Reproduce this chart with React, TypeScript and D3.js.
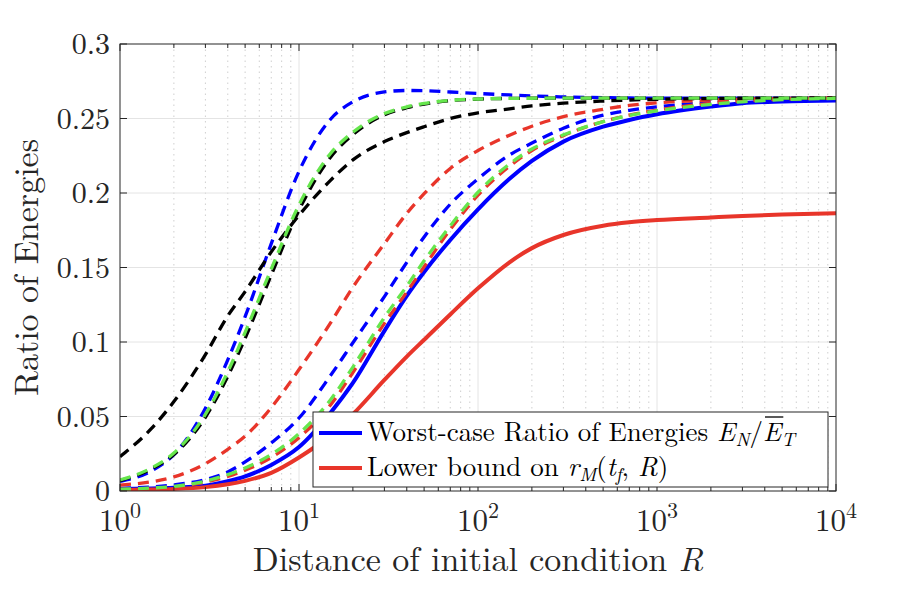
import React, { useEffect, useRef } from 'react';
import * as d3 from 'd3';

// sample points along R (log axis)
const R_VALUES = [1, 1.5, 2, 3, 4, 5, 7, 10, 15, 20, 30, 40, 50, 70, 100, 150, 200, 300, 500, 700, 1000, 2000, 3000, 5000, 10000];

// solid curves
const worstCase = [0.0013, 0.0017, 0.0022, 0.0035, 0.0065, 0.0098, 0.0175, 0.0295, 0.0525, 0.0725, 0.1075, 0.131, 0.147, 0.1685, 0.189, 0.2095, 0.2215, 0.2345, 0.2445, 0.2490, 0.2528, 0.2580, 0.2603, 0.2614, 0.262];
const lowerBound = [0.0007, 0.001, 0.0014, 0.0026, 0.0045, 0.0068, 0.0122, 0.0225, 0.0375, 0.0515, 0.0745, 0.0902, 0.1015, 0.1185, 0.136, 0.1535, 0.1630, 0.1718, 0.1780, 0.1803, 0.1818, 0.1836, 0.1846, 0.1856, 0.1864];

// dashed curves
const blueFast = [0.0065, 0.0135, 0.0245, 0.0555, 0.088, 0.117, 0.166, 0.2145, 0.2495, 0.2612, 0.2678, 0.2688, 0.2687, 0.2678, 0.2668, 0.2658, 0.2651, 0.2645, 0.264, 0.2638, 0.2636, 0.2636, 0.2636, 0.2636, 0.2636];
const blueSlow = [0.0018, 0.0027, 0.0041, 0.0077, 0.0128, 0.0195, 0.0322, 0.049, 0.0775, 0.0995, 0.1305, 0.1535, 0.1705, 0.1925, 0.2095, 0.2255, 0.2335, 0.2435, 0.2522, 0.2555, 0.2578, 0.2608, 0.262, 0.2629, 0.2634];
const redMid = [0.004, 0.0062, 0.0095, 0.0183, 0.028, 0.0368, 0.056, 0.0815, 0.1128, 0.1368, 0.166, 0.1863, 0.1995, 0.2165, 0.2285, 0.2388, 0.2448, 0.2512, 0.2562, 0.2588, 0.2605, 0.2624, 0.263, 0.2634, 0.2636];
const redSlow = [0.001, 0.0018, 0.0028, 0.006, 0.0098, 0.014, 0.0225, 0.0358, 0.0578, 0.0795, 0.1125, 0.1335, 0.1505, 0.1755, 0.1985, 0.2180, 0.2285, 0.2385, 0.248, 0.2523, 0.2556, 0.2602, 0.2618, 0.263, 0.2638];
const blackEarly = [0.023, 0.042, 0.060, 0.0915, 0.1175, 0.1338, 0.1605, 0.185, 0.2085, 0.2222, 0.2345, 0.2405, 0.2445, 0.250, 0.2538, 0.2565, 0.2585, 0.2603, 0.2617, 0.2624, 0.2629, 0.2634, 0.2636, 0.2637, 0.2638];
const blackFast = [0.007, 0.0148, 0.0245, 0.0495, 0.077, 0.1025, 0.145, 0.1885, 0.224, 0.2392, 0.2525, 0.2572, 0.2597, 0.262, 0.263, 0.2635, 0.2636, 0.2637, 0.2637, 0.2637, 0.2637, 0.2637, 0.2637, 0.2637, 0.2637];
const greenFast = [0.0074, 0.0155, 0.0255, 0.0515, 0.080, 0.1065, 0.149, 0.192, 0.2265, 0.2408, 0.2533, 0.2578, 0.2601, 0.2622, 0.2631, 0.2635, 0.2636, 0.2637, 0.2637, 0.2637, 0.2637, 0.2637, 0.2637, 0.2637, 0.2637];
const greenSlow = [0.0012, 0.002, 0.0031, 0.0066, 0.011, 0.0155, 0.0245, 0.0385, 0.0612, 0.0832, 0.1165, 0.1375, 0.1545, 0.178, 0.2005, 0.2195, 0.2295, 0.2390, 0.2479, 0.252, 0.2552, 0.2595, 0.2612, 0.2626, 0.2635];

const Y_TICKS = [0, 0.05, 0.1, 0.15, 0.2, 0.25, 0.3];
const X_DECADES = [0, 1, 2, 3, 4];

const BLUE = '#0000ff';
const RED = '#e8352a';
const GREEN = '#66e64d';
const BLACK = '#000000';

const FONT = "'Latin Modern Roman', 'Liberation Serif', serif";

const W = 912;
const H = 593;
const margin = { top: 44, right: 76, bottom: 102, left: 120 };

const App: React.FC = () => {
  const ref = useRef<SVGSVGElement | null>(null);

  useEffect(() => {
    if (!ref.current) return;
    const svg = d3.select(ref.current);
    svg.selectAll('*').remove();

    const x = d3.scaleLog().domain([1, 1e4]).range([margin.left, W - margin.right]);
    const y = d3.scaleLinear().domain([0, 0.3]).range([H - margin.bottom, margin.top]);
    const [x0, x1] = x.range();
    const [y0, y1] = y.range();

    svg.append('rect').attr('width', W).attr('height', H).attr('fill', '#fff');

    svg.append('defs').append('clipPath').attr('id', 'plot-clip')
      .append('rect').attr('x', x0).attr('y', y1).attr('width', x1 - x0).attr('height', y0 - y1);

    // minor x grid (dotted)
    const minorX: number[] = [];
    for (let k = 0; k < 4; k++) for (let m = 2; m <= 9; m++) minorX.push(m * 10 ** k);
    svg.append('g').selectAll('line').data(minorX).join('line')
      .attr('x1', d => x(d)).attr('x2', d => x(d))
      .attr('y1', y0).attr('y2', y1)
      .attr('stroke', '#cfcfcf').attr('stroke-width', 1).attr('stroke-dasharray', '1.5,4');

    // major grid
    const grid = svg.append('g').attr('stroke', '#e4e4e4').attr('stroke-width', 1);
    grid.selectAll('line.gx').data(X_DECADES.slice(1, -1)).join('line')
      .attr('class', 'gx')
      .attr('x1', d => x(10 ** d)).attr('x2', d => x(10 ** d))
      .attr('y1', y0).attr('y2', y1);
    grid.selectAll('line.gy').data(Y_TICKS.slice(1, -1)).join('line')
      .attr('class', 'gy')
      .attr('x1', x0).attr('x2', x1)
      .attr('y1', d => y(d)).attr('y2', d => y(d));

    // curves
    const line = (vals: number[]) =>
      d3.line<number>()
        .x((_, i) => x(R_VALUES[i]))
        .y(d => y(d))
        .curve(d3.curveMonotoneX)(vals);

    const curves = [
      { v: worstCase, c: BLUE, dash: false },
      { v: lowerBound, c: RED, dash: false },
      { v: blueFast, c: BLUE, dash: true },
      { v: blueSlow, c: BLUE, dash: true },
      { v: redMid, c: RED, dash: true },
      { v: redSlow, c: RED, dash: true },
      { v: blackEarly, c: BLACK, dash: true },
      { v: blackFast, c: BLACK, dash: true },
      { v: greenFast, c: GREEN, dash: true },
      { v: greenSlow, c: GREEN, dash: true },
    ];

    svg.append('g').attr('clip-path', 'url(#plot-clip)')
      .selectAll('path').data(curves).join('path')
      .attr('d', d => line(d.v))
      .attr('fill', 'none')
      .attr('stroke', d => d.c)
      .attr('stroke-width', d => (d.dash ? 3.3 : 4))
      .attr('stroke-dasharray', d => (d.dash ? '11,7' : null));

    // axes box and ticks
    const axisColor = '#262626';
    const ax = svg.append('g').attr('stroke', axisColor).attr('stroke-width', 1).attr('fill', 'none');
    ax.append('rect').attr('x', x0).attr('y', y1).attr('width', x1 - x0).attr('height', y0 - y1);

    const majorLen = 7;
    const minorLen = 4;
    X_DECADES.forEach(k => {
      const px = x(10 ** k);
      ax.append('line').attr('x1', px).attr('x2', px).attr('y1', y0).attr('y2', y0 - majorLen);
      ax.append('line').attr('x1', px).attr('x2', px).attr('y1', y1).attr('y2', y1 + majorLen);
    });
    minorX.forEach(v => {
      const px = x(v);
      ax.append('line').attr('x1', px).attr('x2', px).attr('y1', y0).attr('y2', y0 - minorLen);
      ax.append('line').attr('x1', px).attr('x2', px).attr('y1', y1).attr('y2', y1 + minorLen);
    });
    Y_TICKS.forEach(t => {
      const py = y(t);
      ax.append('line').attr('x1', x0).attr('x2', x0 + majorLen).attr('y1', py).attr('y2', py);
      ax.append('line').attr('x1', x1).attr('x2', x1 - majorLen).attr('y1', py).attr('y2', py);
    });

    // tick labels
    const labels = svg.append('g').attr('fill', '#262626');
    labels.selectAll('text.yt').data(Y_TICKS).join('text')
      .attr('class', 'yt')
      .style('font-family', FONT)
      .attr('x', x0 - 10)
      .attr('y', d => y(d) + 10)
      .attr('text-anchor', 'end')
      .attr('font-size', 30)
      .text(d => String(d));

    const xt = labels.selectAll('text.xt').data(X_DECADES).join('text')
      .attr('class', 'xt')
      .style('font-family', FONT)
      .attr('x', d => x(10 ** d))
      .attr('y', y0 + 40)
      .attr('text-anchor', 'middle')
      .attr('font-size', 31);
    xt.append('tspan').text('10');
    xt.append('tspan').attr('dy', -13).attr('font-size', 22).text(d => String(d));

    // axis titles
    const xl = labels.append('text')
      .style('font-family', FONT)
      .attr('x', (x0 + x1) / 2)
      .attr('y', y0 + 80)
      .attr('text-anchor', 'middle')
      .attr('font-size', 34);
    xl.append('tspan').text('Distance of initial condition ');
    xl.append('tspan').attr('font-style', 'italic').text('R');

    labels.append('text')
      .style('font-family', FONT)
      .attr('transform', `translate(38,${(y0 + y1) / 2}) rotate(-90)`)
      .attr('text-anchor', 'middle')
      .attr('font-size', 34)
      .text('Ratio of Energies');

    // legend
    const lg = svg.append('g');
    lg.append('rect')
      .attr('x', 313).attr('y', 412).attr('width', 515).attr('height', 75)
      .attr('fill', '#fff').attr('stroke', axisColor).attr('stroke-width', 1);

    const entries = [
      { c: BLUE, ly: 433 },
      { c: RED, ly: 468 },
    ];
    lg.selectAll('line').data(entries).join('line')
      .attr('x1', 319).attr('x2', 362)
      .attr('y1', d => d.ly).attr('y2', d => d.ly)
      .attr('stroke', d => d.c).attr('stroke-width', 4);

    const fs = 27;
    const sub = 19;
    const t1 = lg.append('text').style('font-family', FONT)
      .attr('x', 367).attr('y', 441).attr('font-size', fs).attr('fill', '#000');
    const prefix = 'Worst-case Ratio of Energies ';
    t1.append('tspan').text(prefix);
    t1.append('tspan').attr('font-style', 'italic').text('E');
    t1.append('tspan').attr('font-style', 'italic').attr('font-size', sub).attr('dy', 5).text('N');
    t1.append('tspan').attr('dy', -5).text('/');
    t1.append('tspan').attr('font-style', 'italic').text('E');
    t1.append('tspan').attr('font-style', 'italic').attr('font-size', sub).attr('dy', 5).text('T');

    // bar over the second E
    const node = t1.node() as SVGTextElement;
    const ext = node.getExtentOfChar(prefix.length + 3);
    lg.append('line')
      .attr('x1', ext.x + 2).attr('x2', ext.x + ext.width + 2)
      .attr('y1', 417).attr('y2', 417)
      .attr('stroke', '#000').attr('stroke-width', 1.3);

    const t2 = lg.append('text').style('font-family', FONT)
      .attr('x', 367).attr('y', 476).attr('font-size', fs).attr('fill', '#000');
    t2.append('tspan').text('Lower bound on ');
    t2.append('tspan').attr('font-style', 'italic').text('r');
    t2.append('tspan').attr('font-style', 'italic').attr('font-size', sub).attr('dy', 5).text('M');
    t2.append('tspan').attr('dy', -5).text('(');
    t2.append('tspan').attr('font-style', 'italic').text('t');
    t2.append('tspan').attr('font-style', 'italic').attr('font-size', sub).attr('dy', 5).text('f');
    t2.append('tspan').attr('dy', -5).text(', ');
    t2.append('tspan').attr('font-style', 'italic').text('R');
    t2.append('tspan').text(')');
  }, []);

  return (
    <svg
      ref={ref}
      width={W}
      height={H}
      style={{ position: 'absolute', left: 0, top: 0, display: 'block' }}
    />
  );
};

export default App;
